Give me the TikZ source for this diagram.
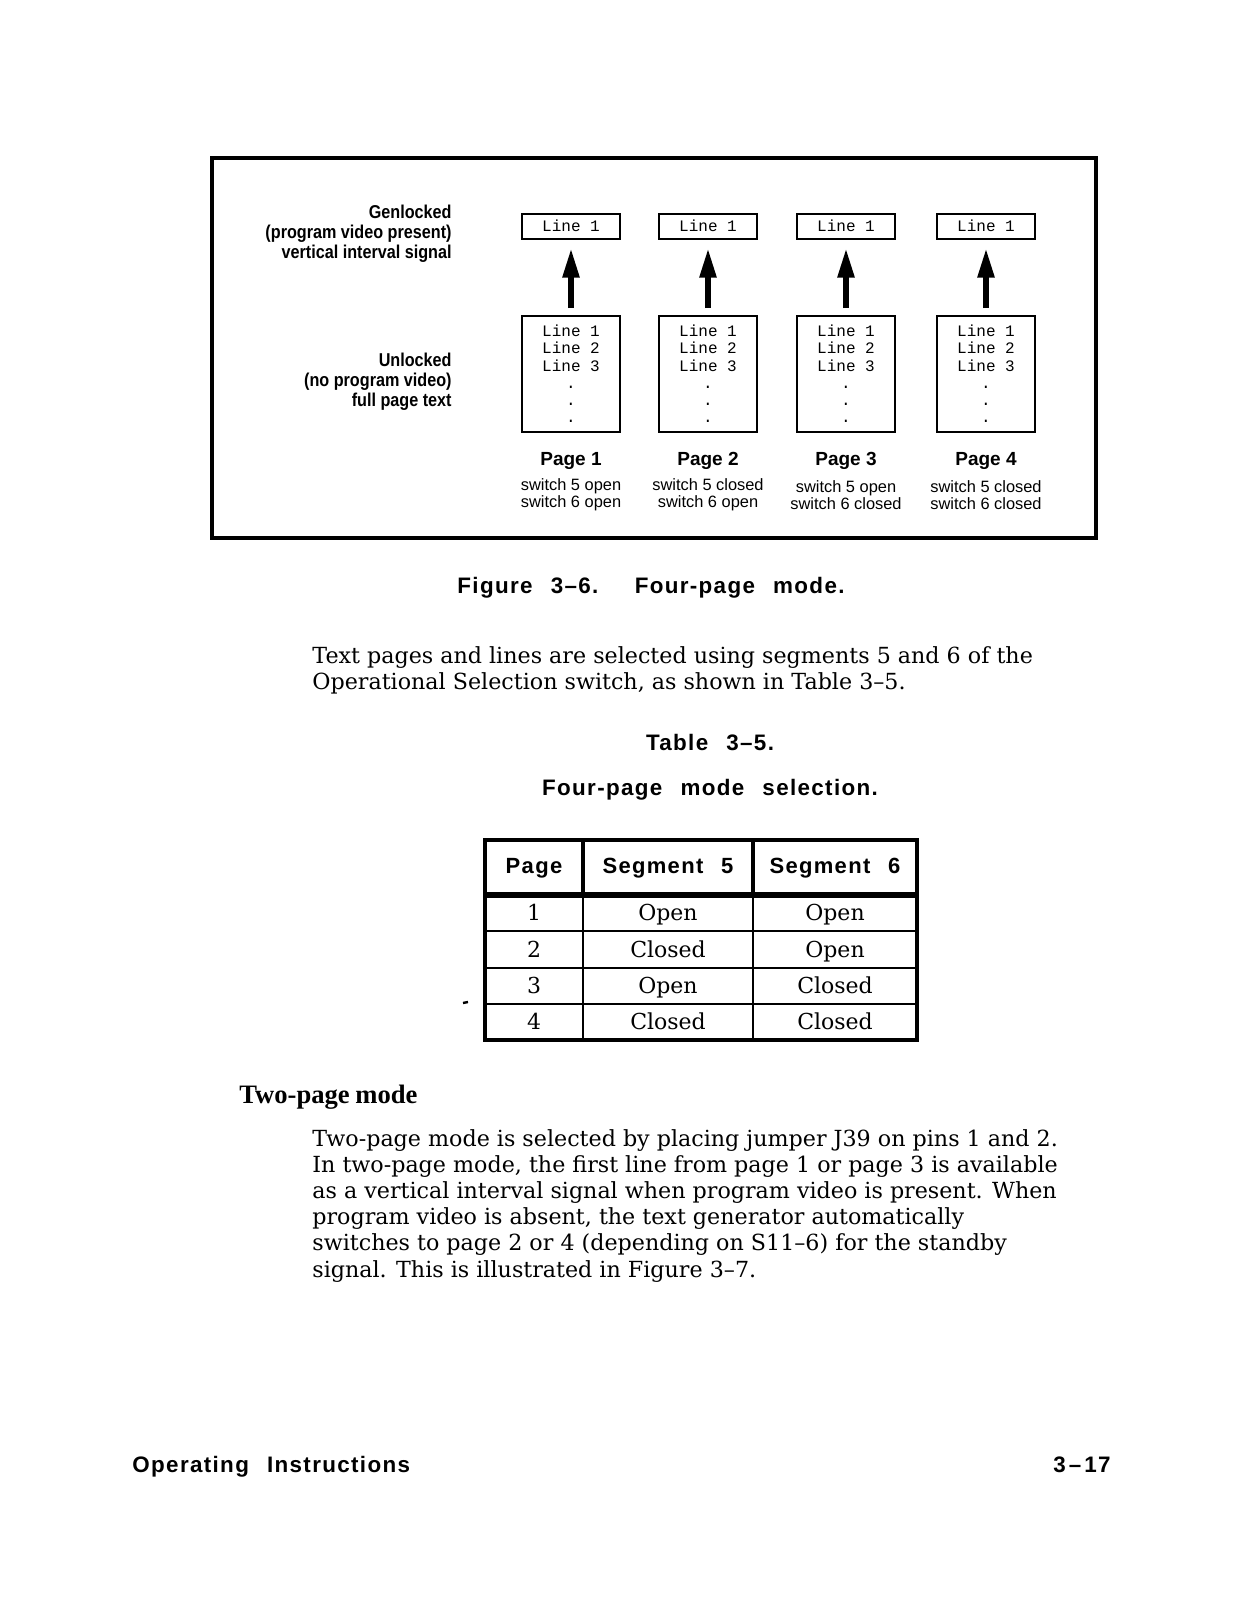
\documentclass[tikz,border=0pt]{standalone}
\usepackage{fontspec}
\usetikzlibrary{arrows.meta,positioning}
\setmainfont{DejaVu Serif}
\newfontfamily\labfont[FakeStretch=0.87]{Liberation Sans}
\newfontfamily\sansfont{Liberation Sans}
\newfontfamily\capfont[LetterSpace=6,WordSpace=2.4]{Liberation Sans}
\newfontfamily\monofont{Liberation Mono}
\newfontfamily\headfont[WordSpace=0.85]{Liberation Serif}

\tikzset{
  linebox/.style={draw, line width=1pt, minimum width=49pt, minimum height=12.5pt,
    inner sep=0pt, font=\monofont\fontsize{8}{8.6}\selectfont},
  pagebox/.style={linebox, minimum height=58pt, align=center},
  uparrow/.style={line width=2.7pt, -{Triangle[length=14.5pt,width=8pt]},
    shorten <=3.5pt, shorten >=4.5pt},
  sidelabel/.style={anchor=east, align=right, inner sep=0pt,
    font=\labfont\bfseries\fontsize{9.3}{10}\selectfont},
  pagename/.style={anchor=base, inner sep=0pt, font=\sansfont\bfseries\fontsize{9.5}{10}\selectfont},
  switchtxt/.style={align=center, inner sep=0pt, font=\sansfont\fontsize{8.2}{8.5}\selectfont},
  captxt/.style={anchor=base, inner sep=0pt, font=\capfont\bfseries\fontsize{11.2}{12}\selectfont},
  bodyline/.style={anchor=base west, inner sep=0pt, font=\fontsize{11.1}{13}\selectfont},
  cell/.style={anchor=base, inner sep=0pt, font=\fontsize{11}{13}\selectfont},
  headcell/.style={anchor=base, inner sep=0pt, font=\capfont\bfseries\fontsize{11}{12}\selectfont},
}

\begin{document}
\begin{tikzpicture}[x=0.5pt,y=-0.5pt]
\fill[white] (0,0) rectangle (1237,1600);
\useasboundingbox (0,0) rectangle (1237,1600);
% figure 3-6
\draw[line width=2.2pt] (212,158) rectangle (1096,538);
\node[sidelabel] (genlocked) at (452,234) {Genlocked\\(program video present)\\vertical interval signal};
\node[sidelabel] (unlocked) at (452,382) {Unlocked\\(no program video)\\full page text};
\node[linebox] (top1) at (571,226) {Line 1};
\node[linebox] (top2) at (708,226) {Line 1};
\node[linebox] (top3) at (846,226) {Line 1};
\node[linebox] (top4) at (986,226) {Line 1};
\node[pagebox] (pg1) at (571,374) {Line 1\\Line 2\\Line 3\\.\\.\\.};
\node[pagebox] (pg2) at (708,374) {Line 1\\Line 2\\Line 3\\.\\.\\.};
\node[pagebox] (pg3) at (846,374) {Line 1\\Line 2\\Line 3\\.\\.\\.};
\node[pagebox] (pg4) at (986,374) {Line 1\\Line 2\\Line 3\\.\\.\\.};
\draw[uparrow] (pg1) -- (top1);
\draw[uparrow] (pg2) -- (top2);
\draw[uparrow] (pg3) -- (top3);
\draw[uparrow] (pg4) -- (top4);
\node[pagename] (name1) at (571,465) {Page 1};
\node[pagename] (name2) at (708,465) {Page 2};
\node[pagename] (name3) at (846,465) {Page 3};
\node[pagename] (name4) at (986,465) {Page 4};
\node[switchtxt] (sw1) at (571,495) {switch 5 open\\switch 6 open};
\node[switchtxt] (sw2) at (708,495) {switch 5 closed\\switch 6 open};
\node[switchtxt] (sw3) at (846,495) {switch 5 open\\switch 6 closed};
\node[switchtxt] (sw4) at (986,495) {switch 5 closed\\switch 6 closed};
\node[captxt] (figcap) at (651,593) {Figure 3–6.\ \ Four-page mode.};
% text
\node[bodyline] (para1a) at (312,663) {Text pages and lines are selected using segments 5 and 6 of the};
\node[bodyline] (para1b) at (312,689) {Operational Selection switch, as shown in Table 3--5.};
\node[captxt] (tabnum) at (710,750) {Table 3–5.};
\node[captxt] (tabcap) at (710,795) {Four-page mode selection.};
% table 3-5
\draw[line width=2pt] (485,840) rectangle (917,894);
\draw[line width=2pt] (583,840) -- (583,894) (753,840) -- (753,894);
\draw[line width=2pt] (485,896) rectangle (917,1040);
\draw[line width=1.3pt] (485,931) -- (917,931) (485,968) -- (917,968) (485,1004) -- (917,1004);
\draw[line width=1.3pt] (583,896) -- (583,1040) (753,896) -- (753,1040);
\node[headcell] (hpage) at (534,873) {Page};
\node[headcell] (hseg5) at (668,873) {Segment 5};
\node[headcell] (hseg6) at (835,873) {Segment 6};
\node[cell] (r1a) at (534,920) {1};
\node[cell] (r1b) at (668,920) {Open};
\node[cell] (r1c) at (835,920) {Open};
\node[cell] (r2a) at (534,957) {2};
\node[cell] (r2b) at (668,957) {Closed};
\node[cell] (r2c) at (835,957) {Open};
\node[cell] (r3a) at (534,993) {3};
\node[cell] (r3b) at (668,993) {Open};
\node[cell] (r3c) at (835,993) {Closed};
\node[cell] (r4a) at (534,1029) {4};
\node[cell] (r4b) at (668,1029) {Closed};
\node[cell] (r4c) at (835,1029) {Closed};
\draw[line width=1.2pt] (463,1003) -- (468,1002);
% two-page mode
\node[anchor=base west, inner sep=0pt, font=\headfont\bfseries\fontsize{13.3}{14}\selectfont] (twohead) at (239,1103) {Two-page mode};
\node[bodyline] (para2a) at (312,1146) {Two-page mode is selected by placing jumper J39 on pins 1 and 2.};
\node[bodyline] (para2b) at (312,1172) {In two-page mode, the first line from page 1 or page 3 is available};
\node[bodyline] (para2c) at (312,1198) {as a vertical interval signal when program video is present. When};
\node[bodyline] (para2d) at (312,1224) {program video is absent, the text generator automatically};
\node[bodyline] (para2e) at (312,1250) {switches to page 2 or 4 (depending on S11--6) for the standby};
\node[bodyline] (para2f) at (312,1277) {signal. This is illustrated in Figure 3--7.};
% footer
\node[captxt, anchor=base west] (foot) at (132,1472) {Operating Instructions};
\node[captxt, anchor=base east] (folio) at (1111,1472) {3\kern1.5pt–\kern1.5pt17};
\end{tikzpicture}
\end{document}
